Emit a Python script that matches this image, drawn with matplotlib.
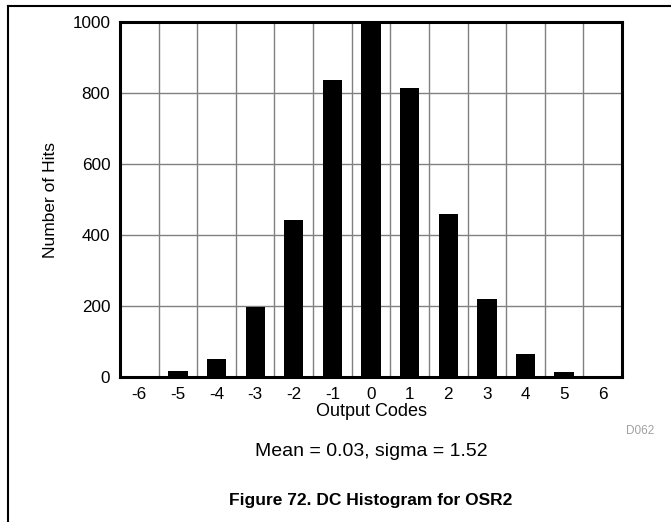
import numpy as np
import matplotlib.pyplot as plt
from matplotlib.lines import Line2D

plt.rcParams['font.family'] = ['Liberation Sans', 'DejaVu Sans']

codes = [-6, -5, -4, -3, -2, -1, 0, 1, 2, 3, 4, 5, 6]
hits = [3, 17, 52, 197, 443, 836, 1000, 815, 458, 220, 65, 13, 2]
yticks = [0, 200, 400, 600, 800, 1000]

fig = plt.figure(figsize=(6.71, 5.22), dpi=100)
ax = fig.add_axes([120 / 671, 1 - 377 / 522, (622 - 120) / 671, (377 - 22) / 522])

ax.bar(codes, hits, width=0.5, color='black', zorder=3)

ax.set_xlim(-6.5, 6.5)
ax.set_ylim(0, 1000)
ax.set_xticks(codes)
ax.set_xticklabels([str(c) for c in codes])
ax.set_yticks(yticks)
ax.set_xticks(np.arange(-5.5, 6.0, 1.0), minor=True)
ax.tick_params(axis='both', which='both', length=0, labelsize=12.3, pad=7)
ax.grid(True, axis='y', which='major', color='#808080', linewidth=1.0, zorder=0)
ax.grid(True, axis='x', which='minor', color='#808080', linewidth=1.0, zorder=0)
ax.grid(False, axis='x', which='major')
for s in ax.spines.values():
    s.set_linewidth(2.2)
    s.set_zorder(4)

ax.set_xlabel('Output Codes', fontsize=13, labelpad=1)
ax.set_ylabel('Number of Hits', fontsize=12.5)
ax.yaxis.set_label_coords((58 - 120) / 502, 0.5)

fig.text(640 / 671, 1 - 431 / 522, 'D062', color='#a0a0a0', fontsize=8.5, ha='center', va='center')
fig.text(371 / 671, 1 - 451 / 522, 'Mean = 0.03, sigma = 1.52', fontsize=14, ha='center', va='center')
fig.text(371 / 671, 1 - 500 / 522, 'Figure 72. DC Histogram for OSR2', fontsize=12.5,
         fontweight='bold', ha='center', va='center')

# page frame (top and left edges only)
fig.add_artist(Line2D([8 / 671, 1.0], [1 - 6 / 522, 1 - 6 / 522], color='black', linewidth=1.5))
fig.add_artist(Line2D([8 / 671, 8 / 671], [0.0, 1 - 6 / 522], color='black', linewidth=1.5))

fig.savefig('out.png', dpi=100)
